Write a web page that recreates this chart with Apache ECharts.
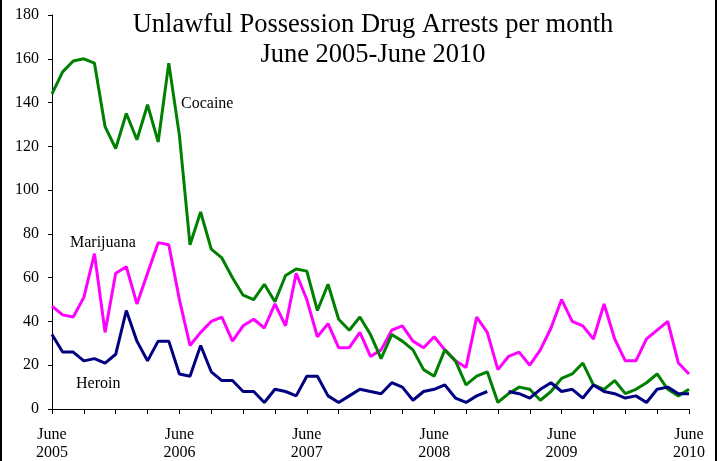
<!DOCTYPE html>
<html>
<head>
<meta charset="utf-8">
<script src="https://cdn.jsdelivr.net/npm/echarts@6/dist/echarts.min.js"></script>
<style>
html,body{margin:0;padding:0;background:#fff;}
#chart{width:722px;height:461px;}
</style>
</head>
<body>
<div id="chart"></div>
<script>
const months = [
"2005-06","2005-07","2005-08","2005-09","2005-10","2005-11","2005-12","2006-01","2006-02","2006-03","2006-04","2006-05",
"2006-06","2006-07","2006-08","2006-09","2006-10","2006-11","2006-12","2007-01","2007-02","2007-03","2007-04","2007-05",
"2007-06","2007-07","2007-08","2007-09","2007-10","2007-11","2007-12","2008-01","2008-02","2008-03","2008-04","2008-05",
"2008-06","2008-07","2008-08","2008-09","2008-10","2008-11","2008-12","2009-01","2009-02","2009-03","2009-04","2009-05",
"2009-06","2009-07","2009-08","2009-09","2009-10","2009-11","2009-12","2010-01","2010-02","2010-03","2010-04","2010-05",
"2010-06"];

const cocaine = [
144,154,159,160,158,129,119,135,123,139,122,158,
125,75,90,73,69,60,52,50,57,49,61,64,
63,45,57,41,36,42,34,23,34,31,27,18,
15,27,22,11,15,17,3,7,10,9,4,8,
14,16,21,11,9,13,7,9,12,16,9,6,
9];

const marijuana = [
47,43,42,51,71,35,62,65,48,62,76,75,
50,29,35,40,42,31,38,41,37,48,38,62,
50,33,39,28,28,35,24,27,36,38,31,28,
33,27,22,19,42,35,18,24,26,20,27,37,
50,40,38,32,48,32,22,22,32,36,40,21,
16];

const heroin = [
34,26,26,22,23,21,25,45,31,22,31,31,
16,15,29,17,13,13,8,8,3,9,8,6,
15,15,6,3,6,9,8,7,12,10,4,8,
9,11,5,3,6,8,null,8,7,5,9,12,
8,9,5,11,8,7,5,6,3,9,10,7,
7];

const yTicks = [0,20,40,60,80,100,120,140,160,180];
const monthName = {"06":"June"};

const chart = echarts.init(document.getElementById('chart'));
const serif = 'Liberation Serif, Times New Roman, serif';
chart.setOption({
  animation:false,
  backgroundColor:'#fff',
  title:{
    text:'Unlawful Possession Drug Arrests per month\nJune 2005-June 2010',
    left:368, top:5, textAlign:'center',
    textStyle:{fontFamily:serif,fontSize:26.5,fontWeight:'normal',color:'#000',lineHeight:30}
  },
  grid:{left:52,right:33,top:15,bottom:52,containLabel:false,outerBoundsMode:'none'},
  xAxis:{
    type:'category',
    data:months,
    boundaryGap:false,
    axisLine:{lineStyle:{color:'#000',width:1}},
    axisTick:{interval:2,length:5,lineStyle:{color:'#000'}},
    axisLabel:{
      interval:11, margin:17, color:'#000', fontFamily:serif, fontSize:16, lineHeight:18,
      formatter:function(v){const p=v.split('-');return (monthName[p[1]]||p[1])+'\n'+p[0];}
    },
    splitLine:{show:false}
  },
  yAxis:{
    type:'value',
    min:yTicks[0], max:yTicks[yTicks.length-1], interval:20,
    axisLine:{show:true,lineStyle:{color:'#000',width:1}},
    axisTick:{show:true,length:4,lineStyle:{color:'#000'}},
    axisLabel:{color:'#000',fontFamily:serif,fontSize:16,margin:13},
    splitLine:{show:false}
  },
  series:[
    {name:'Cocaine',type:'line',data:cocaine,symbol:'none',lineStyle:{color:'#008000',width:3},itemStyle:{color:'#008000'},z:3},
    {name:'Marijuana',type:'line',data:marijuana,symbol:'none',lineStyle:{color:'#FF00FF',width:3},itemStyle:{color:'#FF00FF'},z:2},
    {name:'Heroin',type:'line',data:heroin,symbol:'none',connectNulls:false,lineStyle:{color:'#000080',width:3},itemStyle:{color:'#000080'},z:4}
  ],
  graphic:[
    {type:'text',left:181,top:96,style:{text:'Cocaine',font:'16px '+serif,fill:'#000'}},
    {type:'text',left:70,top:235,style:{text:'Marijuana',font:'16px '+serif,fill:'#000'}},
    {type:'text',left:76,top:376,style:{text:'Heroin',font:'16px '+serif,fill:'#000'}},
    {type:'line',shape:{x1:1,y1:0,x2:1,y2:461},style:{stroke:'#000',lineWidth:2}},
    {type:'line',shape:{x1:716,y1:0,x2:716,y2:461},style:{stroke:'#000',lineWidth:2}}
  ]
});
</script>
</body>
</html>
